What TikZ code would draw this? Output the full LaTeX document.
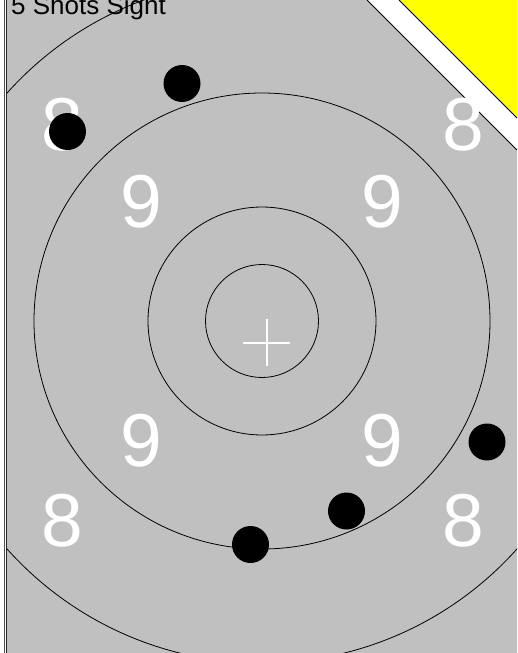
\documentclass[tikz,border=0pt]{standalone}
\usepackage{fontspec}
\setmainfont{Liberation Sans}
\definecolor{tgray}{HTML}{C0C0C0}
\definecolor{tyellow}{HTML}{FFFF00}
\begin{document}
\begin{tikzpicture}[x=1pt,y=-1pt,
  ring/.style={draw=black, line width=0.8pt},
  shot/.style={fill=black},
  score/.style={text=white, font=\fontsize{75}{75}\selectfont, inner sep=0pt, anchor=base},
  edge/.style={draw=black, line width=0.8pt}]
\useasboundingbox (0,0) rectangle (517,653);
\fill[white] (0,0) rectangle (517,653);
\fill[tgray] (7,0) rectangle (517,653);
\begin{scope}
  \clip (7,0) rectangle (517,653);
  \coordinate (c) at (262,321);
  \draw[ring] (c) circle[radius=342pt];
  \draw[ring] (c) circle[radius=228pt];
  \draw[ring] (c) circle[radius=114pt];
  \draw[ring] (c) circle[radius=56.5pt];
\end{scope}
% cross
\draw[white, line width=2pt] (243,342.5) -- (290,342.5);
\draw[white, line width=2pt] (266.5,319) -- (266.5,366);
% corner band
\fill[white] (367,0) -- (517,150) -- (517,0) -- cycle;
\fill[tyellow] (399,0) -- (517,118) -- (517,0) -- cycle;
\coordinate (g1) at (367,0);
\coordinate (g2) at (517,150);
\coordinate (y1) at (399,0);
\coordinate (y2) at (517,118);
\draw[edge] (g1) -- (g2);
\draw[edge] (y1) -- (y2);
% left border lines
\draw[color=black!70, line width=1pt] (4.5,0) -- (4.5,653);
\draw[color=black!85, line width=1pt] (6.5,0) -- (6.5,653);
% scores
\node[score] (s8a) at (62,150) {8};
\node[score] (s8b) at (463,150) {8};
\node[score] (s9a) at (141,227) {9};
\node[score] (s9b) at (382,227) {9};
\node[score] (s9c) at (141,466) {9};
\node[score] (s9d) at (382,466) {9};
\node[score] (s8c) at (62,546) {8};
\node[score] (s8d) at (463,546) {8};
% title
\node[anchor=base west, inner sep=0pt, font=\fontsize{26}{26}\selectfont] (title) at (11,14) {5 Shots Sight};
% shots
\fill[shot] (182,83.5) circle[radius=18.5pt];
\fill[shot] (67.5,131.5) circle[radius=18.5pt];
\fill[shot] (487,442) circle[radius=18.5pt];
\fill[shot] (346.5,511) circle[radius=18.5pt];
\fill[shot] (250.5,544.5) circle[radius=18.5pt];
\end{tikzpicture}
\end{document}
